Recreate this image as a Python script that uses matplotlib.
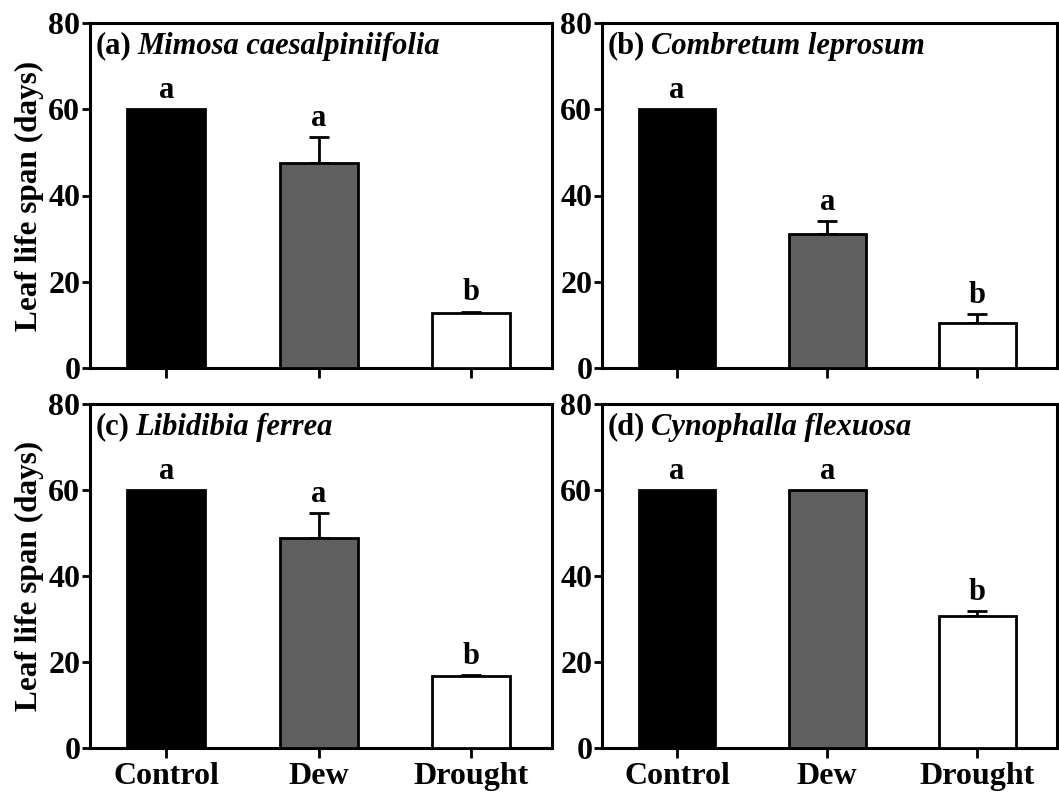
import matplotlib
matplotlib.use("Agg")
import matplotlib.pyplot as plt

plt.rcParams['font.family'] = ['Liberation Serif', 'DejaVu Serif']
plt.rcParams['font.weight'] = 'bold'

treatments = ["Control", "Dew", "Drought"]
bar_colors = ["#000000", "#5f5f5f", "#ffffff"]

species = ["Mimosa caesalpiniifolia", "Combretum leprosum",
           "Libidibia ferrea", "Cynophalla flexuosa"]
panel_tags = ["(a)", "(b)", "(c)", "(d)"]

mimosa_mean = [60.0, 47.5, 12.7]
mimosa_err = [0.0, 6.1, 0.4]
combretum_mean = [60.0, 31.1, 10.5]
combretum_err = [0.0, 3.0, 2.0]
libidibia_mean = [60.0, 48.8, 16.7]
libidibia_err = [0.0, 5.8, 0.3]
cynophalla_mean = [60.0, 60.0, 30.7]
cynophalla_err = [0.0, 0.0, 1.2]

mimosa_letters = ["a", "a", "b"]
combretum_letters = ["a", "a", "b"]
libidibia_letters = ["a", "a", "b"]
cynophalla_letters = ["a", "a", "b"]

means = [mimosa_mean, combretum_mean, libidibia_mean, cynophalla_mean]
errs = [mimosa_err, combretum_err, libidibia_err, cynophalla_err]
letters = [mimosa_letters, combretum_letters, libidibia_letters, cynophalla_letters]

W, H = 1059, 793
fig = plt.figure(figsize=(W / 100, H / 100), dpi=100)

# panel boxes in pixels: left, right, top, bottom
boxes = [(90, 552, 23, 368), (602, 1057, 23, 368),
         (90, 552, 404, 748), (602, 1057, 404, 748)]

x = list(range(len(treatments)))
for i, (l, r, t, b) in enumerate(boxes):
    ax = fig.add_axes([l / W, 1 - b / H, (r - l) / W, (b - t) / H])
    ax.bar(x, means[i], width=0.51, color=bar_colors, edgecolor="black",
           linewidth=2.0, zorder=3)
    for xi, m, e in zip(x, means[i], errs[i]):
        if e > 0:
            ax.errorbar(xi, m, yerr=[[0], [e]], fmt="none", ecolor="black",
                        elinewidth=2.0, capsize=7, capthick=2.0, zorder=2)
    for xi, m, e, lt in zip(x, means[i], errs[i], letters[i]):
        ax.annotate(lt, (xi, m + e), xytext=(0, 3), textcoords="offset points",
                    ha="center", va="bottom", fontsize=22, fontweight="bold")
    ax.set_xlim(-0.5, 2.53)
    ax.set_ylim(0, 80)
    ax.set_yticks([0, 20, 40, 60, 80])
    ax.set_xticks(x)
    if i >= 2:
        ax.set_xticklabels(treatments, fontsize=23, fontweight="bold")
    else:
        ax.set_xticklabels([])
    ax.tick_params(axis="y", labelsize=23, width=2, length=6, pad=1)
    ax.tick_params(axis="x", width=2, length=7, pad=3)
    for lbl in ax.get_yticklabels():
        lbl.set_fontweight("bold")
    for sp in ax.spines.values():
        sp.set_linewidth(2.2)
    tag = ax.text(0.013, 0.975, panel_tags[i], transform=ax.transAxes,
                  ha="left", va="top", fontsize=22, fontweight="bold")
    # species name follows the panel tag directly
    ax.annotate(species[i], (1, 0), xycoords=tag, xytext=(4, 0),
                textcoords="offset points", ha="left", va="bottom",
                fontsize=22, fontweight="bold", fontstyle="italic")
    if i % 2 == 0:
        ax.set_ylabel("Leaf life span (days)", fontsize=22.5, fontweight="bold",
                      labelpad=3)

fig.savefig("out.png", dpi=100)
